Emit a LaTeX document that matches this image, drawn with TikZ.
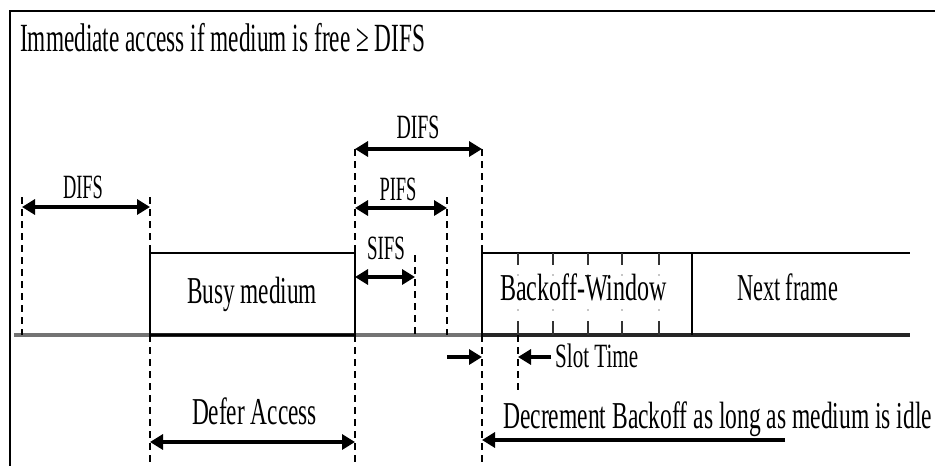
\documentclass[tikz,border=0pt]{standalone}
\usepackage{fontspec}
\setmainfont{Liberation Serif}
\usepackage{graphicx}
\usetikzlibrary{arrows.meta}
\newcommand\fitw[2]{\resizebox{#1pt}{\height}{#2}}
\begin{document}
\begin{tikzpicture}[x=1pt,y=-1pt,
  frameline/.style={line width=2.2pt,black},
  medline/.style={line width=4.5pt,black!55,line cap=butt},
  darkline/.style={line width=4pt,black!85,line cap=butt},
  boxline/.style={line width=2pt,black},
  guide/.style={line width=1.4pt,black,dash pattern=on 7pt off 5pt},
  tick/.style={line width=1.3pt,black!80},
  span/.style={line width=3.5pt,black,{Triangle[length=13pt,width=15pt]}-{Triangle[length=13pt,width=15pt]}},
  ray/.style={line width=3.5pt,black,-{Triangle[length=13pt,width=15pt]}},
  lbl/.style={inner sep=0pt,anchor=base,font=\fontsize{38}{42}\selectfont},
  slbl/.style={inner sep=0pt,anchor=base,font=\fontsize{34}{38}\selectfont}]
\useasboundingbox (0,0) rectangle (935,466);
% frame
\coordinate (fr0) at (935,11);
\coordinate (fr1) at (10,11);
\coordinate (fr2) at (10,466);
\draw[frameline] (fr0) -- (fr1) -- (fr2);
% medium line
\coordinate (m0) at (14,335);
\coordinate (m1) at (910,335);
\draw[medline] (m0) -- (m1);
% busy medium box
\coordinate (b0) at (150,335);
\coordinate (b1) at (355,253);
\draw[darkline] (150,335) -- (355,335);
\draw[boxline] (b0) rectangle (b1);
% backoff window and next frame
\coordinate (w0) at (482,335);
\coordinate (w1) at (482,253);
\coordinate (w2) at (910,253);
\coordinate (n0) at (692,253);
\coordinate (n1) at (692,335);
\draw[darkline] (w0) -- (m1);
\draw[boxline] (w0) -- (w1) -- (w2);
\draw[boxline] (n0) -- (n1);
% slot ticks
\foreach \xx in {518,553,588,622,659}{
  \draw[tick] (\xx,253) -- (\xx,265);
  \draw[tick] (\xx,321) -- (\xx,335);
  \fill[black!45] (\xx,275) circle (0.8pt);
  \fill[black!45] (\xx,310) circle (0.8pt);
}
% dashed guides
\draw[guide] (22,197) -- (22,335);
\draw[guide] (150,197) -- (150,253);
\draw[guide] (150,335) -- (150,466);
\draw[guide] (355,149) -- (355,253);
\draw[guide] (355,335) -- (355,466);
\draw[guide] (415,255) -- (415,335);
\draw[guide] (447,197) -- (447,335);
\draw[guide] (482,149) -- (482,253);
\draw[guide] (482,335) -- (482,466);
\draw[guide] (518,335) -- (518,390);
% arrows
\coordinate (d1l) at (22,207);  \coordinate (d1r) at (150,207);
\coordinate (d2l) at (355,149); \coordinate (d2r) at (482,149);
\coordinate (pfl) at (355,208); \coordinate (pfr) at (447,208);
\coordinate (sfl) at (355,277); \coordinate (sfr) at (415,277);
\coordinate (dfl) at (150,442); \coordinate (dfr) at (355,442);
\coordinate (ra0) at (447,357); \coordinate (ra1) at (482,357);
\coordinate (st0) at (551,357); \coordinate (st1) at (518,357);
\coordinate (dc0) at (785,440); \coordinate (dc1) at (482,440);
\draw[span] (d1l) -- (d1r);
\draw[span] (d2l) -- (d2r);
\draw[span] (pfl) -- (pfr);
\draw[span] (sfl) -- (sfr);
\draw[span] (dfl) -- (dfr);
\draw[ray] (ra0) -- (ra1);
\draw[ray] (st0) -- (st1);
\draw[ray] (dc0) -- (dc1);
% labels
\node[lbl,anchor=base west,font=\fontsize{40}{44}\selectfont] (ttl) at (20,51) {\fitw{405}{Immediate access if medium is free ≥ DIFS}};
\node[slbl] (difsA) at (83,198) {\fitw{40}{DIFS}};
\node[slbl] (difsB) at (418,138) {\fitw{43}{DIFS}};
\node[slbl] (pifs) at (398,200) {\fitw{37}{PIFS}};
\node[slbl] (sifs) at (386,259) {\fitw{38}{SIFS}};
\node[lbl] (busy) at (252,303) {\fitw{130}{Busy medium}};
\node[lbl] (bw) at (583.5,300) {\fitw{167}{Backoff-Window}};
\node[lbl] (nf) at (787.5,300) {\fitw{101}{Next frame}};
\node[slbl,anchor=base west] (slot) at (555,367) {\fitw{83}{Slot Time}};
\node[lbl] (defer) at (254.5,424) {\fitw{125}{Defer Access}};
\node[lbl,anchor=base west] (decr) at (503,428) {\fitw{429}{Decrement Backoff as long as medium is idle}};
\end{tikzpicture}
\end{document}
